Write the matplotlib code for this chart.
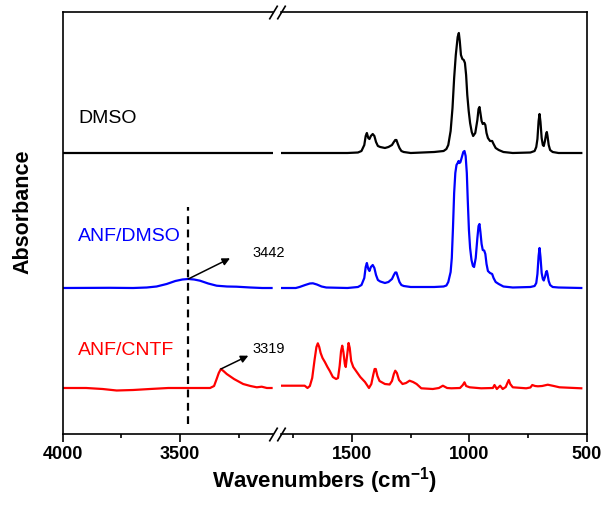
import matplotlib
matplotlib.use("Agg")
import matplotlib.pyplot as plt

plt.rcParams['font.family'] = ['Liberation Sans', 'DejaVu Sans']
plt.rcParams['mathtext.fontset'] = 'custom'
plt.rcParams['mathtext.rm'] = 'Liberation Sans'
plt.rcParams['mathtext.bf'] = 'Liberation Sans:bold'

# ---- spectra (wavenumber, absorbance above own baseline) ----
dmso_hi_w = [1802, 1520, 1475, 1460, 1448, 1442, 1437, 1431, 1426, 1420, 1412, 1405, 1398, 1390,
             1380, 1360, 1345, 1330, 1322, 1316, 1311, 1305, 1298, 1290, 1280, 1250, 1150, 1110,
             1098, 1090, 1080, 1072, 1065, 1058, 1050, 1045, 1041, 1036, 1030, 1024, 1019, 1014,
             1009, 1003, 997, 990, 984, 975, 966, 961, 957, 953, 948, 943, 937, 932, 927, 921,
             912, 903, 897, 888, 875, 855, 815, 740, 722, 715, 710, 705, 701, 697, 692, 687, 683,
             678, 673, 670, 667, 662, 656, 645, 620, 523]
dmso_hi_a = [0, 0, 0.005, 0.02, 0.08, 0.17, 0.20, 0.15, 0.14, 0.17, 0.19, 0.17, 0.11, 0.07,
             0.06, 0.05, 0.06, 0.08, 0.11, 0.13, 0.13, 0.09, 0.05, 0.02, 0.01, 0, 0.01, 0.02,
             0.04, 0.08, 0.22, 0.45, 0.75, 0.98, 1.16, 1.20, 1.12, 0.98, 0.94, 0.93, 0.90, 0.78,
             0.58, 0.42, 0.30, 0.21, 0.17, 0.20, 0.33, 0.44, 0.46, 0.40, 0.32, 0.29, 0.30, 0.28, 0.20, 0.15,
             0.12, 0.12, 0.09, 0.05, 0.03, 0.01, 0, 0.005, 0.02, 0.06, 0.14, 0.32, 0.39, 0.31, 0.15, 0.08, 0.07,
             0.12, 0.19, 0.21, 0.17, 0.08, 0.03, 0.01, 0, 0]
dmso_lo_w = [4000, 3110]
dmso_lo_a = [0, 0]

anfd_hi_w = [1802, 1740, 1724, 1700, 1680, 1667, 1650, 1630, 1610, 1520, 1475, 1460, 1448, 1442,
             1437, 1431, 1426, 1420, 1412, 1405, 1398, 1390, 1380, 1360, 1345, 1330, 1322, 1316,
             1311, 1305, 1298, 1290, 1280, 1250, 1150, 1110, 1098, 1090, 1080, 1075, 1070, 1065,
             1060, 1055, 1050, 1046, 1042, 1038, 1032, 1026, 1021, 1016, 1011, 1007, 1002, 997,
             991, 985, 980, 973, 966, 961, 957, 953, 948, 943, 937, 932, 927, 921, 912, 903, 897,
             888, 875, 855, 815, 740, 722, 715, 710, 705, 701, 697, 692, 687, 683, 678, 673, 670,
             667, 662, 656, 645, 620, 523]
anfd_hi_a = [0, 0, 0.01, 0.03, 0.045, 0.047, 0.035, 0.015, 0.005, 0, 0.01, 0.03, 0.10, 0.21,
             0.25, 0.19, 0.17, 0.21, 0.23, 0.20, 0.13, 0.08, 0.065, 0.05, 0.06, 0.09, 0.13, 0.155,
             0.155, 0.11, 0.06, 0.03, 0.02, 0.01, 0.01, 0.015, 0.025, 0.06, 0.16, 0.30, 0.60, 0.95,
             1.15, 1.23, 1.25, 1.27, 1.25, 1.26, 1.31, 1.36, 1.37, 1.32, 1.15, 0.88, 0.58, 0.40,
             0.28, 0.22, 0.21, 0.30, 0.50, 0.62, 0.64, 0.56, 0.44, 0.38, 0.375, 0.34, 0.24, 0.17, 0.15, 0.14, 0.10,
             0.06, 0.04, 0.015, 0.005, 0.01, 0.02, 0.05, 0.14, 0.32, 0.40, 0.31, 0.15, 0.09, 0.075, 0.11, 0.16, 0.17,
             0.14, 0.07, 0.03, 0.01, 0.005, 0]
anfd_lo_w = [4000, 3800, 3700, 3642, 3600, 3557, 3520, 3490, 3465, 3440, 3415, 3380, 3344, 3300,
             3259, 3200, 3150, 3110]
anfd_lo_a = [0, 0.002, 0, 0.005, 0.015, 0.04, 0.07, 0.085, 0.09, 0.085, 0.073, 0.045, 0.023, 0.015,
             0.013, 0.005, 0, 0]

cntf_hi_w = [1802, 1702, 1690, 1680, 1670, 1660, 1652, 1646, 1640, 1634, 1626, 1616, 1605, 1595,
             1582, 1568, 1560, 1553, 1547, 1542, 1537, 1531, 1527, 1521, 1515, 1510, 1504, 1495,
             1480, 1465, 1445, 1428, 1418, 1410, 1404, 1399, 1392, 1383, 1360, 1340, 1330, 1322,
             1316, 1309, 1300, 1285, 1270, 1255, 1240, 1225, 1205, 1156, 1130, 1113, 1095, 1077,
             1040, 1028, 1021, 1014, 999, 950, 900, 893, 883, 869, 858, 845, 838, 832, 826, 815,
             758, 740, 732, 720, 708, 690, 666, 640, 616, 523]
cntf_hi_a = [0.023, 0.023, 0.0, 0.02, 0.10, 0.28, 0.41, 0.447, 0.41, 0.35, 0.30, 0.26, 0.21, 0.17,
             0.11, 0.09, 0.10, 0.22, 0.37, 0.423, 0.36, 0.24, 0.21, 0.33, 0.45, 0.40, 0.27, 0.21,
             0.16, 0.11, 0.06, 0.0, 0.04, 0.13, 0.19, 0.19, 0.12, 0.07, 0.04, 0.035, 0.07, 0.14,
             0.173, 0.15, 0.08, 0.04, 0.05, 0.073, 0.06, 0.04, -0.003, -0.01, 0, 0.023, 0, -0.003,
             0, 0.03, 0.057, 0.02, 0.007, -0.003, 0, 0.03, -0.01, 0.023, -0.01, 0.01, 0.05, 0.08, 0.04, 0.007,
             -0.003, 0.005, 0.03, 0.02, 0.017, 0.02, 0.033, 0.02, 0.007, -0.003]
cntf_lo_w = [4000, 3900, 3830, 3770, 3700, 3628, 3550, 3372, 3355, 3344, 3335, 3326, 3315, 3301,
             3270, 3231, 3200, 3173, 3152, 3130, 3110]
cntf_lo_a = [0, 0, -0.01, -0.025, -0.02, -0.01, 0, 0, 0.02, 0.09, 0.15, 0.19, 0.17, 0.14,
             0.09, 0.04, 0.02, 0.007, 0.013, 0, 0]

names = ["DMSO", "ANF/DMSO", "ANF/CNTF"]
colors = ["black", "#0000ff", "#ff0000"]
offsets = [2.81, 1.46, 0.46]

fig = plt.figure(figsize=(6.05, 5.06), dpi=100)
W, H = 605.0, 506.0
bot, top = (H - 435) / H, (H - 13.3) / H
axL = fig.add_axes([62.7 / W, bot, (272.5 - 62.7) / W, top - bot])
axR = fig.add_axes([281.0 / W, bot, (586.7 - 281.0) / W, top - bot])

for ax in (axL, axR):
    ax.patch.set_visible(False)
    ax.set_ylim(0, 4.217)
    ax.set_yticks([])
    for s in ax.spines.values():
        s.set_linewidth(1.2)
    ax.tick_params(axis='x', which='major', direction='out', length=6, width=1.2,
                   labelsize=13, pad=2)
    ax.tick_params(axis='x', which='minor', direction='out', length=3, width=1.2)

axL.spines['right'].set_visible(False)
axR.spines['left'].set_visible(False)
axL.set_xlim(4000, 3106)
axR.set_xlim(1803, 500)
axL.set_xticks([4000, 3500])
axL.set_xticks([3750, 3250], minor=True)
axR.set_xticks([1500, 1000, 500])
axR.set_xticks([1750, 1250, 750], minor=True)
for ax in (axL, axR):
    for lab in ax.get_xticklabels():
        lab.set_fontweight('bold')

lo = [(dmso_lo_w, dmso_lo_a), (anfd_lo_w, anfd_lo_a), (cntf_lo_w, cntf_lo_a)]
hi = [(dmso_hi_w, dmso_hi_a), (anfd_hi_w, anfd_hi_a), (cntf_hi_w, cntf_hi_a)]
for (wl, al), (wh, ah), c, off in zip(lo, hi, colors, offsets):
    axL.plot(wl, [a + off for a in al], color=c, lw=1.6, solid_joinstyle='round')
    axR.plot(wh, [a + off for a in ah], color=c, lw=1.6, solid_joinstyle='round')

# sample names
label_y = [3.12, 1.943, 0.80]
for n, c, y in zip(names, colors, label_y):
    axL.text(3935, y, n, color=c, fontsize=14, va='baseline', ha='left')

# dashed marker line
axL.plot([3465, 3465], [0.10, 2.27], color='black', lw=1.6, ls=(0, (3.5, 2.5)))

# arrows with peak positions
arrow = dict(arrowstyle='-|>', color='black', lw=1.1, mutation_scale=11, shrinkA=0, shrinkB=0)
axL.annotate("", xy=(3287, 1.757), xytext=(3465, 1.55), arrowprops=arrow)
axL.text(3193, 1.783, "3442", fontsize=10.5, va='baseline', ha='left', clip_on=False)
axL.annotate("", xy=(3209, 0.783), xytext=(3326, 0.65), arrowprops=arrow)
axL.text(3193, 0.817, "3319", fontsize=10.5, va='baseline', ha='left', clip_on=False)

# break marks
brk = dict(marker=[(-0.6, -1), (0.6, 1)], markersize=10, linestyle='none', color='k',
           mec='k', mew=1.2, clip_on=False)
for y in (0, 1):
    axL.plot([1], [y], transform=axL.transAxes, **brk)
    axR.plot([0], [y], transform=axR.transAxes, **brk)

fig.text(324.7 / W, (H - 481) / H, r'Wavenumbers (cm$^{\mathbf{-1}}$)', fontsize=16,
         fontweight='bold', ha='center', va='center')
fig.text(23 / W, (H - 212) / H, 'Absorbance', fontsize=15.5, fontweight='bold',
         rotation=90, ha='center', va='center')

fig.savefig("out.png", dpi=100)
